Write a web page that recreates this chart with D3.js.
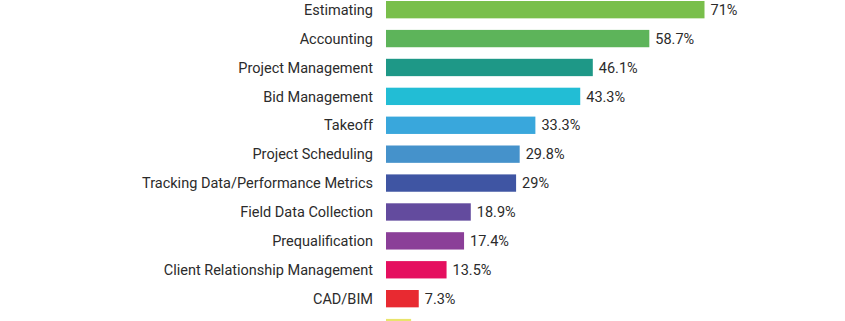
<!DOCTYPE html>
<html>
<head>
<meta charset="utf-8">
<script src="https://cdn.jsdelivr.net/npm/d3@7"></script>
<style>
  html, body { margin: 0; padding: 0; background: #fff; overflow: hidden; }
  svg { display: block; }
  .bar-label, .value-label { font-family: Roboto, "Open Sans", sans-serif; font-size: 14.5px; fill: #2b2b2b; }
</style>
</head>
<body>
<svg id="chart" width="845" height="321"></svg>
<script>
  const categories = [
    "Estimating",
    "Accounting",
    "Project Management",
    "Bid Management",
    "Takeoff",
    "Project Scheduling",
    "Tracking Data/Performance Metrics",
    "Field Data Collection",
    "Prequalification",
    "Client Relationship Management",
    "CAD/BIM",
    "Other",
  ];
  const values = [71, 58.7, 46.1, 43.3, 33.3, 29.8, 29, 18.9, 17.4, 13.5, 7.3, 5.6];
  const barColors = [
    "#79bf4b", "#5db45a", "#1e9887", "#22bdd5", "#39a7dc", "#4592cb",
    "#3f55a3", "#634b9e", "#8b3f98", "#e50f5f", "#e82a31", "#e9e46c",
  ];

  const width = 845;
  const height = 321;
  const left = 386;
  const step = 28.9;

  const svg = d3.select("#chart");

  const x = d3.scaleLinear().domain([0, 71]).range([left, left + 318.5]);
  const y = d3
    .scaleBand()
    .domain(categories)
    .range([1 - step * 0.2, 1 - step * 0.2 + step * categories.length])
    .paddingInner(0.4)
    .paddingOuter(0.2);

  const rows = categories.map((name, i) => ({ name, value: values[i], color: barColors[i] }));

  const row = svg
    .selectAll("g.row")
    .data(rows)
    .join("g")
    .attr("class", "row")
    .attr("transform", (d) => `translate(0,${y(d.name)})`);

  row
    .append("rect")
    .attr("x", x(0))
    .attr("width", (d) => x(d.value) - x(0))
    .attr("height", y.bandwidth())
    .attr("fill", (d) => d.color);

  // only label rows whose text sits inside the view; the last bar runs off the bottom
  const labelled = row.filter((d) => y(d.name) + y.bandwidth() < height);

  labelled
    .append("text")
    .attr("class", "bar-label")
    .attr("x", x(0) - 13)
    .attr("y", y.bandwidth() / 2)
    .attr("dy", "0.36em")
    .attr("text-anchor", "end")
    .text((d) => d.name);

  labelled
    .append("text")
    .attr("class", "value-label")
    .attr("x", (d) => x(d.value) + 6)
    .attr("y", y.bandwidth() / 2)
    .attr("dy", "0.36em")
    .text((d) => `${d.value}%`);
</script>
</body>
</html>
